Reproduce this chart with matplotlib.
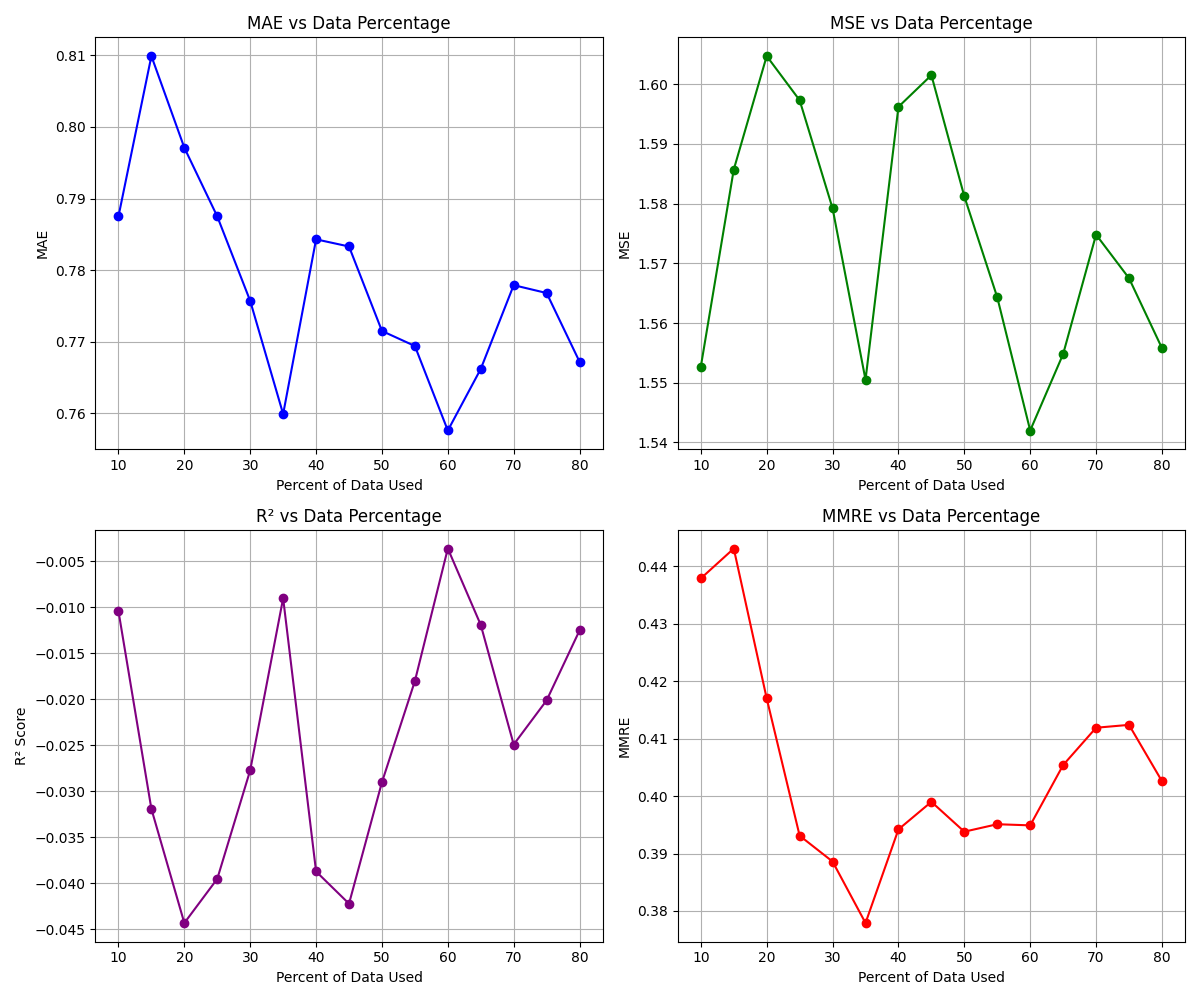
import matplotlib
matplotlib.use("Agg")
import matplotlib.pyplot as plt

percent = [10, 15, 20, 25, 30, 35, 40, 45, 50, 55, 60, 65, 70, 75, 80]
mae = [0.7875, 0.8099, 0.7971, 0.7875, 0.7757, 0.7599, 0.7843, 0.7833, 0.7715,
       0.7694, 0.7576, 0.7662, 0.7779, 0.7768, 0.7672]
mse = [1.5527, 1.5857, 1.6047, 1.5973, 1.5792, 1.5505, 1.5962, 1.6015, 1.5812,
       1.5643, 1.5420, 1.5548, 1.5748, 1.5675, 1.5558]
r2 = [-0.0104, -0.0319, -0.0443, -0.0395, -0.0277, -0.0090, -0.0387, -0.0422,
      -0.0290, -0.0180, -0.0036, -0.0119, -0.0249, -0.0201, -0.0125]
mmre = [0.4379, 0.4431, 0.4170, 0.3931, 0.3886, 0.3779, 0.3942, 0.3990, 0.3938,
        0.3951, 0.3949, 0.4054, 0.4119, 0.4124, 0.4026]

panels = [
    (mae, "blue", "MAE vs Data Percentage", "MAE"),
    (mse, "green", "MSE vs Data Percentage", "MSE"),
    (r2, "purple", "R² vs Data Percentage", "R² Score"),
    (mmre, "red", "MMRE vs Data Percentage", "MMRE"),
]

fig, axes = plt.subplots(2, 2, figsize=(12, 10), dpi=100)
for ax, (vals, color, title, ylabel) in zip(axes.flat, panels):
    ax.plot(percent, vals, marker="o", color=color)
    ax.set_title(title)
    ax.set_xlabel("Percent of Data Used")
    ax.set_ylabel(ylabel)
    ax.grid(True)

plt.tight_layout()
plt.savefig("out.png")
